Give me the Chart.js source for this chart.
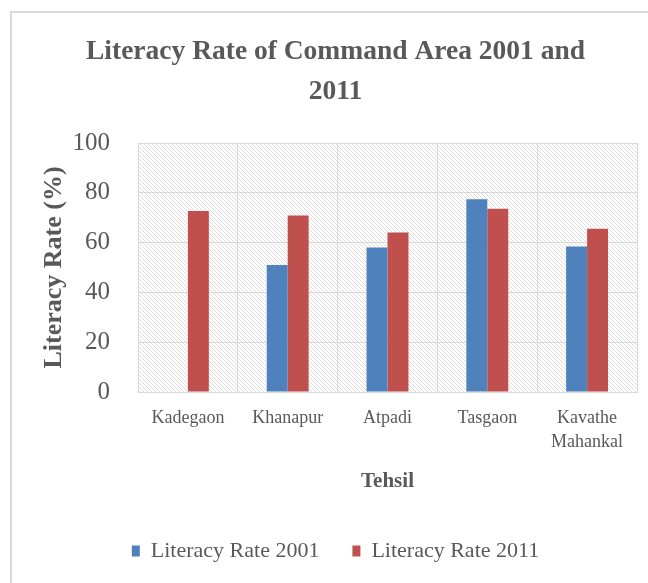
<!DOCTYPE html>
<html>
<head>
<meta charset="utf-8">
<script src="https://cdn.jsdelivr.net/npm/chart.js@4/dist/chart.umd.min.js"></script>
<style>
  html, body { margin: 0; padding: 0; background: #ffffff; }
  #wrap { position: relative; width: 648px; height: 583px; overflow: hidden; }
  #c { position: absolute; left: 0; top: 0; }
  #frame { position: absolute; left: 10px; top: 11px; right: -10px; bottom: -10px;
           border-left: 2px solid #dadada; border-top: 2px solid #dadada; pointer-events: none; }
</style>
</head>
<body>
<div id="wrap">
  <canvas id="c" width="648" height="583"></canvas>
  <div id="frame"></div>
</div>
<script>
const categories = ["Kadegaon", "Khanapur", "Atpadi", "Tasgaon", ["Kavathe", "Mahankal"]];
const literacy2001 = [null, 51.0, 58.0, 77.4, 58.4];
const literacy2011 = [72.7, 70.9, 64.1, 73.6, 65.6];
const yTicks = [0, 20, 40, 60, 80, 100];
const seriesNames = ["Literacy Rate 2001", "Literacy Rate 2011"];
const titleLines = ["Literacy Rate of Command Area 2001 and", "2011"];

const FONT = "'Liberation Serif', 'Times New Roman', serif";
const TEXT = "#595959";
const GRID = "#d9d9d9";

function makeHatch(ctx) {
  const s = 4;
  const c = document.createElement("canvas");
  c.width = s; c.height = s;
  const g = c.getContext("2d");
  g.fillStyle = "#ffffff";
  g.fillRect(0, 0, s, s);
  g.strokeStyle = "rgba(0,0,0,0.13)";
  g.lineWidth = 1;
  g.beginPath();
  g.moveTo(-1, -1); g.lineTo(s + 1, s + 1);
  g.moveTo(-1, s - 1); g.lineTo(1, s + 1);
  g.moveTo(s - 1, -1); g.lineTo(s + 1, 1);
  g.stroke();
  return ctx.createPattern(c, "repeat");
}

const hatchPlugin = {
  id: "hatch",
  beforeDraw(chart) {
    const {ctx, chartArea: a} = chart;
    ctx.save();
    ctx.fillStyle = makeHatch(ctx);
    ctx.fillRect(a.left, a.top, a.right - a.left, a.bottom - a.top);
    ctx.restore();
  }
};

new Chart(document.getElementById("c"), {
  type: "bar",
  data: {
    labels: categories,
    datasets: [
      { label: seriesNames[0], data: literacy2001, backgroundColor: "#4F81BD", borderWidth: 0 },
      { label: seriesNames[1], data: literacy2011, backgroundColor: "#C0504D", borderWidth: 0 }
    ]
  },
  options: {
    responsive: false,
    animation: false,
    devicePixelRatio: 1,
    layout: { padding: { left: 34, right: 11, top: 0, bottom: 11 } },
    datasets: { bar: { categoryPercentage: 0.42, barPercentage: 1.0 } },
    plugins: {
      title: {
        display: true,
        text: titleLines,
        color: TEXT,
        font: { family: FONT, size: 27.5, weight: "bold", lineHeight: 40 / 27.5 },
        padding: { top: 32, bottom: 31 }
      },
      legend: {
        position: "bottom",
        labels: {
          color: TEXT,
          font: { family: FONT, size: 22, lineHeight: 1 },
          boxWidth: 8,
          boxHeight: 11,
          padding: 33
        }
      },
      tooltip: { enabled: false }
    },
    scales: {
      x: {
        offset: true,
        grid: { display: true, offset: true, color: GRID, lineWidth: 1, drawTicks: false },
        border: { display: true, color: GRID },
        ticks: {
          color: TEXT,
          font: { family: FONT, size: 18, lineHeight: 24 / 18 },
          padding: 14,
          maxRotation: 0,
          autoSkip: false
        },
        title: {
          display: true,
          text: "Tehsil",
          color: TEXT,
          font: { family: FONT, size: 21, weight: "bold", lineHeight: 1.2 },
          padding: { top: 0, bottom: 13 }
        },
        afterFit(scale) { scale.height = 115; }
      },
      y: {
        min: yTicks[0],
        max: yTicks[yTicks.length - 1],
        afterBuildTicks(scale) { scale.ticks = yTicks.map(v => ({ value: v })); },
        grid: { color: GRID, lineWidth: 1, drawTicks: false },
        border: { display: true, color: GRID },
        ticks: {
          color: TEXT,
          font: { family: FONT, size: 25 },
          padding: 28
        },
        title: {
          display: true,
          text: "Literacy Rate (%)",
          color: TEXT,
          font: { family: FONT, size: 26, weight: "bold", lineHeight: 1.2 },
          padding: { top: 4.4, bottom: 0 }
        },
        afterFit(scale) { scale.width = 104; }
      }
    }
  },
  plugins: [hatchPlugin]
});
</script>
</body>
</html>
